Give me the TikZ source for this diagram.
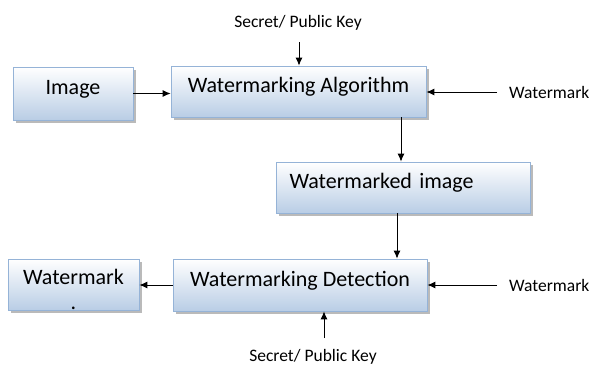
\documentclass[tikz,border=0pt]{standalone}
\usepackage{fontspec}
\setmainfont{Carlito}
\usetikzlibrary{shadows,arrows.meta}

\definecolor{boxline}{HTML}{95B3D7}
\definecolor{boxfill}{HTML}{B9CDE5}

\tikzset{
  block/.style={rectangle, draw=boxline, line width=0.8pt, top color=white, bottom color=boxfill,
    drop shadow={shadow xshift=2.5pt, shadow yshift=-2.5pt, fill=black!45, opacity=0.6},
    inner sep=0pt, font=\fontsize{22}{24}\selectfont, text height=0.75em, text depth=0.55em},
  side/.style={font=\fontsize{17.5}{20}\selectfont},
  link/.style={line width=0.9pt, -{Latex[length=8pt,width=7pt]}}
}

\begin{document}
\begin{tikzpicture}[x=1pt, y=-1pt]
    \useasboundingbox (0,0) rectangle (590,365);

    \node[block, minimum width=120pt, minimum height=53pt] (img) at (73,93.5) {Image};
    \node[block, minimum width=255pt, minimum height=51pt] (alg) at (298.5,91.5) {Watermarking Algorithm};
    \node[block, minimum width=254pt, minimum height=51pt, text width=228pt, align=left] (wmd) at (403.5,187.5) {Watermarked image};
    \node[block, minimum width=254pt, minimum height=52pt] (det) at (300,285) {Watermarking Detection};
    \node[block, minimum width=131pt, minimum height=51pt, align=center, text height=, text depth=] (out) at (73.5,284.5) {\rule{0pt}{25pt}Watermark\\[1pt].};

    \node[side] (keytop) at (298,23) {Secret/ Public Key};
    \node[side, anchor=west, inner sep=0pt] (wmtop) at (509,92) {Watermark};
    \node[side, anchor=west, inner sep=0pt] (wmbot) at (509,285) {Watermark};
    \node[side] (keybot) at (313,357) {Secret/ Public Key};

    \coordinate (keyin) at (299,42);
    \coordinate (wmin) at (497,92);
    \coordinate (wmin2) at (497,285);
    \coordinate (keyin2) at (324,338);

    \draw[link] (keyin) -- (keyin |- alg.north);
    \draw[link] (wmin) -- (wmin -| alg.east);
    \draw[link] (img.east) -- (img.east -| alg.west);
    \draw[link] (alg.south -| 401,0) -- (wmd.north -| 401,0);
    \draw[link] (wmd.south -| 397,0) -- (det.north -| 397,0);
    \draw[link] (wmin2) -- (wmin2 -| det.east);
    \draw[link] (det.west) -- (det.west -| out.east);
    \draw[link] (keyin2) -- (keyin2 |- det.south);
\end{tikzpicture}
\end{document}
